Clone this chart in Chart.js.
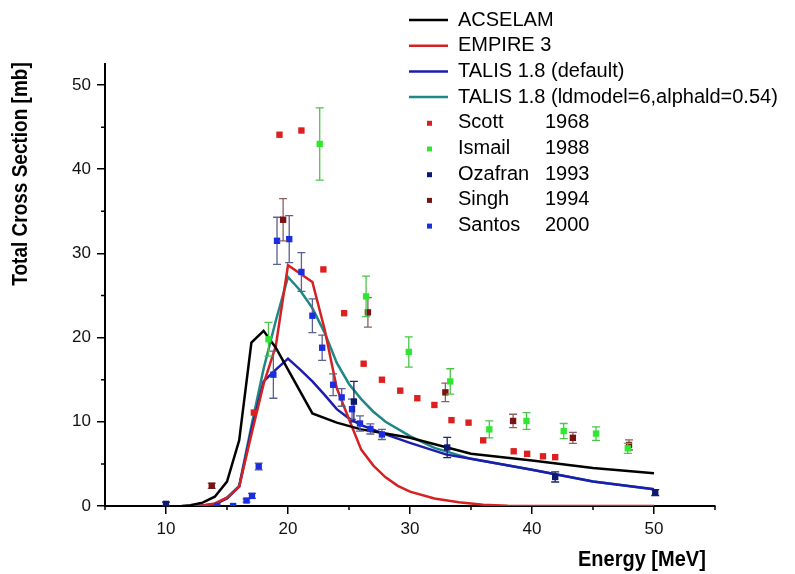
<!DOCTYPE html>
<html>
<head>
<meta charset="utf-8">
<script src="https://cdn.jsdelivr.net/npm/chart.js@4/dist/chart.umd.min.js"></script>
<style>
  body { margin: 0; background: #fff; }
  canvas { display: block; }
</style>
</head>
<body>
<canvas id="myChart" width="795" height="574"></canvas>
<script>
const FONT = "'Liberation Sans', Arial, sans-serif";

// model curves: energy [MeV] and cross section [mb]
const acselamE = [11.3, 12, 13, 14, 15, 16, 17, 18, 19, 22, 24, 26, 28, 30, 35, 40, 45, 50];
const acselam  = [0, 0.1, 0.4, 1.1, 2.9, 7.8, 19.4, 20.8, 18.8, 11.0, 9.9, 9.1, 8.6, 8.1, 6.2, 5.4, 4.5, 3.9];

const empireE = [12, 13, 14, 15, 16, 17, 18, 19, 20, 22, 23, 24, 25, 26, 27, 28, 29, 30, 32, 34, 36, 38, 40, 45, 50];
const empire  = [0, 0.05, 0.3, 1.0, 2.3, 8.5, 14.5, 19.0, 28.6, 26.6, 21.0, 14.0, 10.3, 6.7, 4.8, 3.4, 2.4, 1.7, 0.9, 0.45, 0.15, 0.03, 0, 0, 0];

const talisDefE = [12, 13, 14, 15, 16, 17, 18, 19, 20, 21, 22, 23, 24, 25, 26, 28, 30, 33, 35, 40, 45, 50];
const talisDef  = [0, 0.05, 0.2, 0.9, 2.3, 9.0, 14.8, 16.2, 17.5, 16.2, 14.8, 13.2, 11.5, 10.4, 9.6, 8.5, 7.5, 6.1, 5.6, 4.3, 2.9, 2.0];

const talisLdE = [12, 13, 14, 15, 16, 17, 18, 19, 20, 21, 22, 23, 24, 25, 26, 27, 28, 30, 32, 35, 40, 45, 50];
const talisLd  = [0, 0.05, 0.2, 1.0, 2.4, 9.5, 16.3, 22.0, 27.2, 25.6, 23.5, 20.6, 17.0, 14.5, 12.7, 11.2, 10.0, 8.3, 6.9, 5.6, 4.3, 2.9, 2.0];

// experimental data
const scottE = [17.2, 19.3, 21.1, 22.9, 24.6, 26.2, 27.7, 29.2, 30.6, 32.0, 33.4, 34.8, 36.0, 38.5, 39.6, 40.9, 41.9];
const scott  = [11.1, 44.1, 44.6, 28.1, 22.9, 16.9, 15.0, 13.7, 12.8, 12.0, 10.2, 9.9, 7.8, 6.5, 6.2, 5.9, 5.8];

const ismailE   = [18.4, 22.6, 26.4, 29.9, 33.3, 36.5, 39.55, 42.6, 45.25, 47.85];
const ismail    = [19.8, 43.0, 24.9, 18.3, 14.8, 9.1, 10.1, 8.9, 8.6, 6.85];
const ismailErr = [2.0, 4.3, 2.4, 1.8, 1.5, 1.0, 1.0, 0.9, 0.8, 0.6];

const ozafranE   = [10, 25.4, 33.05, 41.9, 50.1];
const ozafran    = [0.25, 12.4, 6.95, 3.45, 1.6];
const ozafranErr = [0.2, 2.4, 1.2, 0.6, 0.35];

const singhE   = [13.75, 19.6, 26.55, 32.9, 38.45, 43.35, 47.95];
const singh    = [2.4, 34.0, 23.0, 13.5, 10.1, 8.1, 7.25];
const singhErr = [0.3, 2.5, 1.75, 1.1, 0.8, 0.65, 0.6];

const santosE   = [14.2, 15.5, 16.6, 17.05, 17.6, 18.8, 19.1, 20.1, 21.1, 22.0, 22.8, 23.7, 24.4, 25.25, 25.9, 26.75, 27.7];
const santos    = [0, 0, 0.65, 1.2, 4.7, 15.6, 31.5, 31.7, 27.8, 22.6, 18.8, 14.4, 12.9, 11.5, 9.8, 9.15, 8.5];
const santosErr = [0, 0, 0.2, 0.3, 0.4, 2.8, 2.8, 2.8, 2.3, 2.0, 1.5, 1.3, 1.05, 1.2, 0.9, 0.6, 0.6];

const pairs = (xs, ys) => xs.map((x, i) => ({x: x, y: ys[i]}));

const lineSet = (label, xs, ys, color) => ({
    label, data: pairs(xs, ys), showLine: true, borderColor: color, borderWidth: 2.5,
    pointRadius: 0, tension: 0, order: 2
});
const pointSet = (label, year, xs, ys, errs, color, errColor) => ({
    label, year, data: pairs(xs, ys), showLine: false, pointStyle: 'rect', pointRadius: 4.5,
    backgroundColor: color, borderColor: color, borderWidth: 0, errors: errs, errorColor: errColor, order: 1
});

const datasets = [
    lineSet('ACSELAM', acselamE, acselam, '#000000'),
    lineSet('EMPIRE 3', empireE, empire, '#d42222'),
    lineSet('TALIS 1.8 (default)', talisDefE, talisDef, '#1c1cae'),
    lineSet('TALIS 1.8 (ldmodel=6,alphald=0.54)', talisLdE, talisLd, '#1f8886'),
    pointSet('Scott', '1968', scottE, scott, null, '#dd1f1f', null),
    pointSet('Ismail', '1988', ismailE, ismail, ismailErr, '#2ee82e', '#4cc44c'),
    pointSet('Ozafran', '1993', ozafranE, ozafran, ozafranErr, '#0d1870', '#1a2470'),
    pointSet('Singh', '1994', singhE, singh, singhErr, '#7a1212', '#8a6060'),
    pointSet('Santos', '2000', santosE, santos, santosErr, '#1a2ee0', '#5a6090')
];

// vertical error bars with caps, drawn right under each point series
const errorBars = {
    id: 'errorBars',
    beforeDatasetDraw(chart, args) {
        const ds = chart.data.datasets[args.index];
        if (!ds.errors) return;
        const ctx = chart.ctx;
        const xs = chart.scales.x, ys = chart.scales.y;
        ctx.save();
        ctx.strokeStyle = ds.errorColor;
        ctx.lineWidth = 1.3;
        ds.data.forEach((p, i) => {
            const e = ds.errors[i];
            if (!e) return;
            const px = xs.getPixelForValue(p.x);
            const top = ys.getPixelForValue(p.y + e);
            const bot = ys.getPixelForValue(p.y - e);
            ctx.beginPath();
            ctx.moveTo(px, top); ctx.lineTo(px, bot);
            ctx.moveTo(px - 4, top); ctx.lineTo(px + 4, top);
            ctx.moveTo(px - 4, bot); ctx.lineTo(px + 4, bot);
            ctx.stroke();
        });
        ctx.restore();
    }
};

// short minor ticks at the odd multiples of 5
const minorTicks = {
    id: 'minorTicks',
    afterDraw(chart) {
        const ctx = chart.ctx;
        const xs = chart.scales.x, ys = chart.scales.y;
        const area = chart.chartArea;
        ctx.save();
        ctx.strokeStyle = '#000';
        ctx.lineWidth = 1.5;
        ctx.beginPath();
        xs.ticks.forEach(t => {
            if (t.value % 10 === 0) return;
            const px = xs.getPixelForValue(t.value);
            ctx.moveTo(px, area.bottom); ctx.lineTo(px, area.bottom + 4);
        });
        ys.ticks.forEach(t => {
            if (t.value % 10 === 0) return;
            const py = ys.getPixelForValue(t.value);
            ctx.moveTo(area.left, py); ctx.lineTo(area.left - 4, py);
        });
        ctx.stroke();
        ctx.restore();
    }
};

// legend and axis titles
const decorations = {
    id: 'decorations',
    afterDraw(chart) {
        const ctx = chart.ctx;
        ctx.save();
        ctx.fillStyle = '#000';
        ctx.textBaseline = 'middle';
        ctx.font = '20px ' + FONT;
        let y = 20;
        chart.data.datasets.forEach(ds => {
            if (ds.showLine) {
                ctx.strokeStyle = ds.borderColor;
                ctx.lineWidth = 2.5;
                ctx.beginPath();
                ctx.moveTo(409, y); ctx.lineTo(448, y);
                ctx.stroke();
                ctx.fillStyle = '#000';
                ctx.fillText(ds.label, 458, y);
            } else {
                ctx.fillStyle = ds.backgroundColor;
                ctx.fillRect(427, y - 2, 5, 5);
                ctx.fillStyle = '#000';
                ctx.fillText(ds.label, 458, y);
                ctx.fillText(ds.year, 545, y);
            }
            y += 25.7;
        });

        ctx.font = 'bold 20px ' + FONT;
        ctx.textAlign = 'left';
        ctx.save();
        ctx.translate(578, 560);
        ctx.scale(1, 1.1);
        ctx.fillText('Energy [MeV]', 0, 0);
        ctx.restore();

        ctx.font = 'bold 19px ' + FONT;
        ctx.translate(21, 174);
        ctx.rotate(-Math.PI / 2);
        ctx.scale(1, 1.2);
        ctx.textAlign = 'center';
        ctx.fillText('Total Cross Section [mb]', 0, 0);
        ctx.restore();
    }
};

const axisTicks = () => ({
    autoSkip: false, maxRotation: 0, includeBounds: false, stepSize: 5,
    color: '#111', font: {size: 17, family: FONT},
    callback: v => (v % 10 === 0 ? v : '')
});
const axisGrid = () => ({
    drawOnChartArea: false, tickLength: 8, lineWidth: 1.5,
    tickColor: c => (c.tick && c.tick.value % 10 === 0 ? '#000' : 'rgba(0,0,0,0)')
});

const ctx = document.getElementById('myChart');
const myChart = new Chart(ctx, {
    type: 'scatter',
    data: { datasets: datasets },
    options: {
        responsive: false,
        animation: false,
        layout: { padding: { left: 0, right: 80, top: 64, bottom: 0 } },
        plugins: { legend: { display: false }, tooltip: { enabled: false } },
        scales: {
            x: {
                type: 'linear', min: 5, max: 55,
                afterFit(s) { s.height = 68; },
                border: { color: '#000', width: 2 },
                grid: axisGrid(),
                ticks: Object.assign(axisTicks(), { padding: 5 })
            },
            y: {
                type: 'linear', min: 0, max: 52.5,
                afterFit(s) { s.width = 105; },
                border: { color: '#000', width: 2 },
                grid: axisGrid(),
                ticks: Object.assign(axisTicks(), { padding: 6 })
            }
        }
    },
    plugins: [errorBars, minorTicks, decorations]
});
</script>
</body>
</html>
